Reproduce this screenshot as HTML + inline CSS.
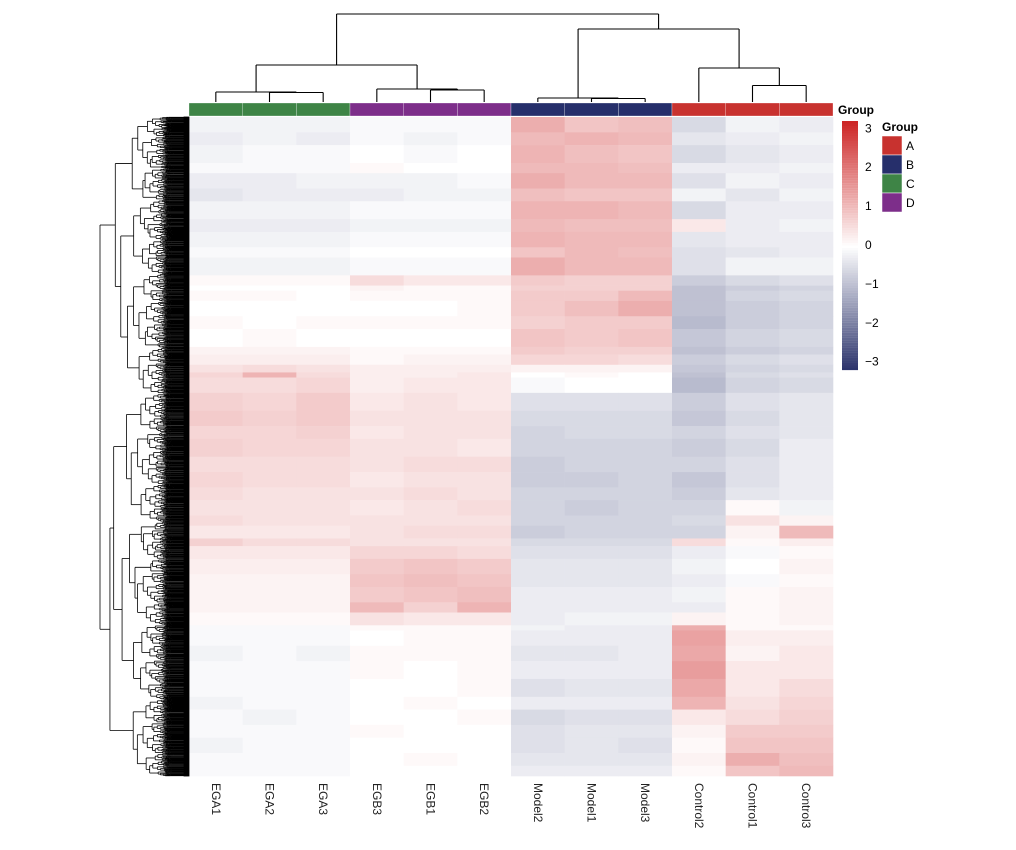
<!DOCTYPE html>
<html><head><meta charset="utf-8"><style>
body{margin:0;background:#fff;font-family:"Liberation Sans",sans-serif}
svg{display:block}
</style></head><body>
<svg id="chart" width="1016" height="850" xmlns="http://www.w3.org/2000/svg">
<g id="coldendro" stroke="#000" stroke-width="1.1" fill="none"></g>
<g id="annot"></g>
<g id="heat"></g>
<g id="rowdendro" stroke="#000" stroke-width="0.8" fill="none"></g>
<g id="labels" font-size="12" fill="#222"></g>
<g id="legend"></g>
</svg>
<script>
const columns=["EGA1","EGA2","EGA3","EGB3","EGB1","EGB2","Model2","Model1","Model3","Control2","Control1","Control3"];
const colGroups=["C","C","C","D","D","D","B","B","B","A","A","A"];
const groupNames=["A","B","C","D"];
const groupColors={"A":"#c8322f","B":"#262f6b","C":"#3e8446","D":"#7d2e8a"};
const blockSizes=[12,10,14,8,12,10,14,10,12,8,14,8,4,8,12,10,14,6,8,6,4,12,14,12,10,14,12,12,10,12,8,10,6,10,12,10,12,8,10,4,12,12,14,14,10,12,10,12,10,8];
const blockValues=[
[-0.2,-0.2,-0.2,-0.1,-0.1,-0.1,1.4,1.0,1.1,-0.6,-0.2,-0.3],
[-0.3,-0.2,-0.3,-0.1,-0.2,-0.1,1.2,1.3,1.2,-0.4,-0.3,-0.2],
[-0.2,-0.1,-0.1,0.0,-0.1,0.0,1.3,1.1,1.0,-0.6,-0.4,-0.3],
[-0.1,-0.1,-0.1,0.1,0.0,0.0,1.2,1.2,1.1,-0.3,-0.3,-0.2],
[-0.3,-0.3,-0.2,-0.2,-0.2,-0.1,1.4,1.2,1.2,-0.5,-0.2,-0.3],
[-0.4,-0.3,-0.3,-0.3,-0.2,-0.2,1.1,1.0,1.0,-0.2,-0.4,-0.2],
[-0.2,-0.2,-0.2,-0.1,-0.1,-0.1,1.3,1.3,1.2,-0.6,-0.3,-0.3],
[-0.3,-0.3,-0.3,-0.2,-0.2,-0.2,1.2,1.1,1.1,0.4,-0.3,-0.2],
[-0.2,-0.2,-0.2,-0.1,-0.1,-0.1,1.3,1.2,1.2,-0.4,-0.3,-0.3],
[-0.1,-0.1,-0.1,0.0,0.0,0.0,1.0,1.2,1.1,-0.5,-0.4,-0.3],
[-0.2,-0.2,-0.2,-0.1,-0.1,-0.1,1.4,1.2,1.2,-0.5,-0.2,-0.2],
[0.1,0.1,0.1,0.6,0.4,0.4,0.9,0.8,0.8,-0.8,-0.6,-0.5],
[0.0,0.0,0.0,0.2,0.1,0.1,0.8,0.8,0.8,-1.0,-0.8,-0.7],
[0.1,0.1,0.0,0.1,0.1,0.1,0.9,0.9,1.2,-1.0,-0.7,-0.6],
[0.0,0.0,0.0,0.0,0.0,0.1,0.9,1.1,1.4,-1.0,-0.8,-0.7],
[0.1,0.0,0.1,0.1,0.1,0.1,0.8,0.9,0.9,-1.1,-0.8,-0.7],
[0.0,0.1,0.0,0.0,0.0,0.0,1.0,0.9,1.0,-0.9,-0.7,-0.6],
[0.2,0.2,0.2,0.1,0.1,0.1,0.9,0.8,0.8,-1.0,-0.8,-0.7],
[0.3,0.3,0.3,0.1,0.2,0.2,0.7,0.7,0.6,-0.8,-0.6,-0.5],
[0.5,0.6,0.5,0.3,0.3,0.3,0.2,0.2,0.2,-0.9,-0.7,-0.6],
[0.7,1.3,0.6,0.3,0.3,0.4,0.0,0.1,0.0,-1.0,-0.6,-0.5],
[0.6,0.6,0.7,0.3,0.4,0.4,-0.1,0.0,0.0,-1.1,-0.7,-0.6],
[0.8,0.7,0.9,0.4,0.5,0.4,-0.5,-0.5,-0.5,-0.8,-0.5,-0.4],
[0.9,0.8,0.9,0.5,0.5,0.5,-0.6,-0.6,-0.6,-0.9,-0.6,-0.4],
[0.7,0.7,0.8,0.4,0.5,0.5,-0.7,-0.6,-0.6,-0.7,-0.5,-0.4],
[0.8,0.7,0.7,0.5,0.5,0.4,-0.7,-0.7,-0.7,-0.8,-0.6,-0.3],
[0.6,0.6,0.6,0.5,0.6,0.6,-0.8,-0.7,-0.7,-0.7,-0.5,-0.3],
[0.7,0.6,0.6,0.4,0.5,0.5,-0.8,-0.8,-0.7,-0.9,-0.5,-0.3],
[0.6,0.5,0.5,0.5,0.6,0.5,-0.7,-0.7,-0.7,-0.8,-0.4,-0.3],
[0.5,0.5,0.5,0.4,0.5,0.6,-0.7,-0.8,-0.7,-0.7,0.1,-0.2],
[0.6,0.5,0.5,0.5,0.5,0.5,-0.7,-0.7,-0.7,-0.6,0.5,0.2],
[0.4,0.4,0.4,0.5,0.6,0.6,-0.8,-0.7,-0.7,-0.7,0.2,1.2],
[0.8,0.6,0.6,0.5,0.5,0.5,-0.6,-0.6,-0.6,0.6,0.1,0.3],
[0.4,0.4,0.4,0.7,0.7,0.6,-0.5,-0.5,-0.5,-0.3,-0.1,0.1],
[0.3,0.3,0.3,0.9,1.0,0.9,-0.4,-0.4,-0.4,-0.2,0.0,0.2],
[0.2,0.2,0.2,1.0,1.1,1.0,-0.4,-0.4,-0.4,-0.3,-0.1,0.1],
[0.2,0.2,0.2,0.9,1.0,1.1,-0.3,-0.3,-0.3,-0.2,0.1,0.2],
[0.2,0.2,0.2,1.2,0.8,1.3,-0.3,-0.3,-0.3,-0.3,0.1,0.2],
[0.1,0.1,0.1,0.5,0.4,0.4,-0.3,-0.2,-0.2,0.2,0.1,0.2],
[-0.1,-0.1,-0.1,0.1,0.1,0.1,-0.2,-0.3,-0.3,1.4,0.1,0.1],
[-0.1,-0.1,-0.1,0.0,0.1,0.1,-0.3,-0.3,-0.3,1.6,0.3,0.3],
[-0.2,-0.1,-0.2,0.1,0.1,0.1,-0.4,-0.4,-0.3,1.5,0.2,0.4],
[-0.1,-0.1,-0.1,0.1,0.0,0.1,-0.3,-0.3,-0.3,1.7,0.4,0.4],
[-0.1,-0.1,-0.1,0.0,0.0,0.1,-0.5,-0.4,-0.4,1.5,0.4,0.6],
[-0.2,-0.1,-0.1,0.0,0.1,0.0,-0.3,-0.3,-0.3,1.3,0.5,0.7],
[-0.1,-0.2,-0.1,0.0,0.0,0.1,-0.6,-0.5,-0.5,0.4,0.6,0.8],
[-0.1,-0.1,-0.1,0.1,0.0,0.0,-0.5,-0.4,-0.4,0.2,0.9,0.9],
[-0.2,-0.1,-0.1,0.0,0.0,0.0,-0.5,-0.4,-0.5,0.1,1.0,1.0],
[-0.1,-0.1,-0.1,0.0,0.1,0.0,-0.4,-0.4,-0.4,0.2,1.4,1.1],
[-0.1,-0.1,-0.1,0.0,0.0,0.0,-0.3,-0.3,-0.3,0.1,1.0,1.2]
];
const legendTicks=[3,2,1,0,-1,-2,-3];
const NS="http://www.w3.org/2000/svg";
const X0=189,X1=833,Y0=117,Y1=776,CW=(X1-X0)/columns.length;
const colX=i=>X0+CW*i, colC=i=>X0+CW*(i+0.5);
function mk(t,a,p){const e=document.createElementNS(NS,t);for(const k in a)e.setAttribute(k,a[k]);p.appendChild(e);return e;}
function color(v){v=Math.max(-3,Math.min(3,v));let t=Math.abs(v)/3;
 const c=v>=0?[205,38,38]:[40,48,105];
 return `rgb(${Math.round(255+(c[0]-255)*t)},${Math.round(255+(c[1]-255)*t)},${Math.round(255+(c[2]-255)*t)})`;}
// heatmap (cell colours slightly muted to match rendering)
const heat=document.getElementById('heat');
const total=blockSizes.reduce((a,b)=>a+b,0);
let y=Y0;
blockSizes.forEach((s,r)=>{const h=s/total*(Y1-Y0);
 blockValues[r].forEach((v,c)=>{const e=mk('rect',{x:colX(c),y:y,width:CW+0.3,height:h+0.3,fill:color(v>0?v*0.8:v*0.9)},heat);
  
  });
 y+=h;});
const an=document.getElementById('annot');
colGroups.forEach((g,i)=>{const e=mk('rect',{x:colX(i),y:103,width:CW,height:13,fill:groupColors[g],stroke:'#fff','stroke-width':0.3},an);
 
 });
mk('text',{x:838,y:114,'font-size':12,'font-weight':'bold'},an).textContent='Group';
const lb=document.getElementById('labels');
columns.forEach((n,i)=>{const t=mk('text',{x:0,y:0,transform:`translate(${colC(i)-4},783) rotate(90)`},lb);t.textContent=n;
 
 });
const cd=document.getElementById('coldendro');
function seg(x1,y1,x2,y2,p){mk('line',{x1,y1,x2,y2},p);}
function merge(xa,ya,xb,yb,h){seg(xa,ya,xa,h,cd);seg(xb,yb,xb,h,cd);seg(xa,h,xb,h,cd);}
const B=102;
merge(colC(1),B,colC(2),B,92.5);
merge(colC(0),B,(colC(1)+colC(2))/2,92.5,92);
merge(colC(4),B,colC(5),B,90);
merge(colC(3),B,(colC(4)+colC(5))/2,90,89);
merge(colC(7),B,colC(8),B,98.5);
merge(colC(6),B,(colC(7)+colC(8))/2,98.5,98);
merge(colC(10),B,colC(11),B,85.5);
merge(colC(9),B,(colC(10)+colC(11))/2,85.5,68);
const lx=(colC(0)+(colC(1)+colC(2))/2)/2, rx=(colC(3)+(colC(4)+colC(5))/2)/2;
merge(lx,92,rx,89,65);
const mx=(colC(6)+(colC(7)+colC(8))/2)/2, cx=(colC(9)+(colC(10)+colC(11))/2)/2;
merge(mx,98,cx,68,29);
merge((lx+rx)/2,65,(mx+cx)/2,29,14);
// row dendrogram (structural)
const rd=document.getElementById('rowdendro');
const fr=[0.42,0.3,0.62,0.38,0.55,0.33,0.68,0.47,0.58,0.36,0.2,0.8];
let k=0;
function hx(s){return X0-1-88*Math.pow(s/(Y1-Y0),0.22);}
function tree(a,b){const s=b-a,x=hx(s);
 if(s<0.9){seg(x,(a+b)/2,X0-1,(a+b)/2,rd);return [x,(a+b)/2];}
 const f=fr[k++%fr.length];const m=a+s*f;
 const L=tree(a,m),R=tree(m,b);
 seg(x,L[1],L[0],L[1],rd);seg(x,R[1],R[0],R[1],rd);seg(x,L[1],x,R[1],rd);
 return [x,(L[1]+R[1])/2];}
tree(Y0,Y1);
mk('rect',{x:184,y:Y0,width:5,height:Y1-Y0,fill:'#000'},rd);
const lg=document.getElementById('legend');
for(let i=0;i<100;i++){const v=3-6*i/100;mk('rect',{x:842,y:121+i*2.49,width:16,height:2.6,fill:color(v)},lg);}
legendTicks.forEach(v=>{const t=mk('text',{x:865,y:249-v*38.9,'font-size':12},lg);t.textContent=v<0?'\u2212'+(-v):String(v);
 
 });
mk('text',{x:882,y:131,'font-size':12,'font-weight':'bold'},lg).textContent='Group';
groupNames.forEach((g,i)=>{const r=mk('rect',{x:882,y:136+i*19,width:20,height:19,fill:groupColors[g],stroke:'#fff','stroke-width':0.5},lg);
 
 
 const t=mk('text',{x:906,y:150+i*19,'font-size':12},lg);t.textContent=g;
 
 });
</script>
</body></html>
